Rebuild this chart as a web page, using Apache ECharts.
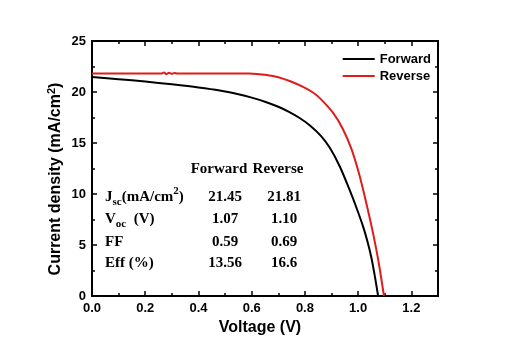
<!DOCTYPE html>
<html>
<head>
<meta charset="utf-8">
<script src="https://cdn.jsdelivr.net/npm/echarts@6/dist/echarts.min.js"></script>
<style>
  html, body { margin: 0; padding: 0; background: #fff; }
  #chart { width: 509px; height: 354px; }
</style>
</head>
<body>
<div id="chart"></div>
<script>
// J-V 曲线数据 (V, mA/cm2)
var forwardV = [0, 0.1, 0.2, 0.3, 0.4, 0.48, 0.55, 0.6, 0.65, 0.7, 0.74, 0.78, 0.82, 0.86, 0.893, 0.931, 0.968, 0.993, 1.018, 1.035, 1.049, 1.062, 1.075];
var forwardJ = [21.47, 21.26, 21.02, 20.75, 20.45, 20.15, 19.78, 19.45, 19.05, 18.55, 18.05, 17.45, 16.7, 15.7, 14.55, 12.7, 10.4, 8.7, 6.85, 5.35, 3.85, 2.05, 0];
var reverseV = [0, 0.1, 0.2, 0.26, 0.27, 0.28, 0.29, 0.3, 0.31, 0.32, 0.4, 0.5, 0.59, 0.62, 0.65, 0.7, 0.745, 0.793, 0.83, 0.856, 0.906, 0.943, 0.975, 0.999, 1.018, 1.049, 1.074, 1.097];
var reverseJ = [21.81, 21.81, 21.81, 21.81, 21.9, 21.76, 21.88, 21.78, 21.87, 21.81, 21.81, 21.81, 21.81, 21.77, 21.69, 21.45, 21.05, 20.5, 19.95, 19.4, 17.95, 16.35, 14.4, 12.4, 10.5, 7.0, 3.75, 0];

// 参数表
var paramLabels = [
  "{m|J}{sub|sc}{m|(mA/cm}{sup|2}{m|)}",
  "{m|V}{sub|oc}{m|  (V)}",
  "{m|FF}",
  "{m|Eff (%)}",
];
var forwardParams = ["21.45", "1.07", "0.59", "13.56"];
var reverseParams = ["21.81", "1.10", "0.69", "16.6"];

function toPairs(xs, ys) {
  return xs.map(function (x, i) {
    return [x, ys[i]];
  });
}

var sansFont = "Liberation Sans";
var serifFont = "Liberation Serif";

function xAxisOf(position, interval, tickLen, withLabel) {
  return {
    type: "value",
    position: position,
    min: 0,
    max: 1.3,
    interval: interval,
    axisLine: { show: true, lineStyle: { color: "#000", width: 2 } },
    axisTick: { show: true, inside: true, length: tickLen, lineStyle: { color: "#000", width: 1.5 } },
    axisLabel: {
      show: withLabel,
      margin: 6,
      color: "#000",
      fontFamily: sansFont,
      fontWeight: "bold",
      fontSize: 13,
      formatter: function (v) {
        return v > 1.25 ? "" : v.toFixed(1);
      },
    },
    splitLine: { show: false },
  };
}

function yAxisOf(position, withLabel) {
  return {
    type: "value",
    position: position,
    min: 0,
    max: 25,
    interval: 5,
    axisLine: { show: true, onZero: false, lineStyle: { color: "#000", width: 2 } },
    axisTick: { show: true, inside: true, length: 5, lineStyle: { color: "#000", width: 1.5 } },
    minorTick: { show: true, splitNumber: 2, length: 3, lineStyle: { color: "#000", width: 1.5 } },
    axisLabel: {
      show: withLabel,
      margin: 6,
      color: "#000",
      fontFamily: sansFont,
      fontWeight: "bold",
      fontSize: 13,
    },
    splitLine: { show: false },
  };
}

var graphics = [
  {
    type: "text",
    x: 56,
    y: 179,
    rotation: Math.PI / 2,
    style: {
      text: "{a|Current density (mA/cm}{s|2}{a|)}",
      align: "center",
      verticalAlign: "middle",
      fill: "#000",
      rich: {
        a: { fontFamily: sansFont, fontWeight: "bold", fontSize: 16, lineHeight: 20, fill: "#000" },
        s: { fontFamily: sansFont, fontWeight: "bold", fontSize: 11, lineHeight: 11, verticalAlign: "top", fill: "#000" },
      },
    },
  },
  {
    type: "text",
    x: 260,
    y: 328,
    style: {
      text: "Voltage (V)",
      align: "center",
      verticalAlign: "middle",
      fill: "#000",
      font: "bold 16px " + sansFont,
    },
  },
  {
    type: "text",
    x: 219,
    y: 169,
    style: { text: "Forward", align: "center", verticalAlign: "middle", fill: "#000", font: "bold 15px " + serifFont },
  },
  {
    type: "text",
    x: 278,
    y: 169,
    style: { text: "Reverse", align: "center", verticalAlign: "middle", fill: "#000", font: "bold 15px " + serifFont },
  },
];

var rowY = [197, 219, 242, 263];
var richTable = {
  m: { fontFamily: serifFont, fontWeight: "bold", fontSize: 15, lineHeight: 22, fill: "#000" },
  sub: { fontFamily: serifFont, fontWeight: "bold", fontSize: 11, lineHeight: 13, verticalAlign: "bottom", fill: "#000" },
  sup: { fontFamily: serifFont, fontWeight: "bold", fontSize: 11, lineHeight: 11, verticalAlign: "top", fill: "#000" },
};
for (var i = 0; i < paramLabels.length; i++) {
  graphics.push({
    type: "text",
    x: 105,
    y: rowY[i],
    style: { text: paramLabels[i], align: "left", verticalAlign: "middle", fill: "#000", rich: richTable },
  });
  graphics.push({
    type: "text",
    x: 225,
    y: rowY[i],
    style: { text: forwardParams[i], align: "center", verticalAlign: "middle", fill: "#000", font: "bold 15px " + serifFont },
  });
  graphics.push({
    type: "text",
    x: 284,
    y: rowY[i],
    style: { text: reverseParams[i], align: "center", verticalAlign: "middle", fill: "#000", font: "bold 15px " + serifFont },
  });
}

var chart = echarts.init(document.getElementById("chart"), null, { renderer: "canvas" });
var option = {
  backgroundColor: "#fff",
  animation: false,
  grid: { left: 92, right: 71, top: 41, bottom: 58 },
  legend: {
    orient: "vertical",
    right: 73,
    top: 47,
    icon: "rect",
    itemWidth: 32,
    itemHeight: 2,
    itemGap: 3,
    textStyle: { color: "#000", fontFamily: sansFont, fontWeight: "bold", fontSize: 13, lineHeight: 14 },
    data: ["Forward", "Reverse"],
  },
  xAxis: [
    xAxisOf("bottom", 0.2, 5, true),
    xAxisOf("bottom", 0.1, 3, false),
    xAxisOf("top", 0.2, 5, false),
    xAxisOf("top", 0.1, 3, false),
  ],
  yAxis: [yAxisOf("left", true), yAxisOf("right", false)],
  series: [
    {
      name: "Forward",
      type: "line",
      data: toPairs(forwardV, forwardJ),
      smooth: 0.3,
      symbol: "none",
      lineStyle: { color: "#000", width: 2 },
      itemStyle: { color: "#000" },
    },
    {
      name: "Reverse",
      type: "line",
      data: toPairs(reverseV, reverseJ),
      smooth: 0.3,
      symbol: "none",
      lineStyle: { color: "#e01b1b", width: 2 },
      itemStyle: { color: "#e01b1b" },
    },
  ],
  graphic: graphics,
};
chart.setOption(option);
</script>
</body>
</html>
